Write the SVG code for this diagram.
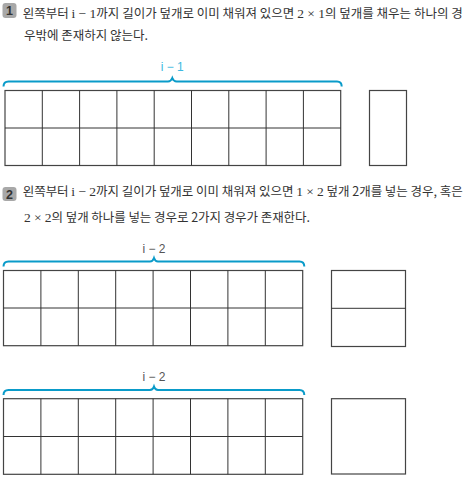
<svg xmlns="http://www.w3.org/2000/svg" width="473" height="482" viewBox="0 0 473 482">
<style>
.t{font-family:"Noto Sans CJK KR","Noto Sans",sans-serif;font-size:12.5px;fill:#333}
.s{font-family:"Liberation Serif",serif;font-size:13.5px}
.badge{fill:#a8a8a8}
.bn{font-family:"Liberation Sans",Arial,sans-serif;font-size:12.5px;font-weight:bold;fill:#333;text-anchor:middle}
.brace{fill:none;stroke:#0a9bc9;stroke-width:2}
.grid{fill:none;stroke:#333;stroke-width:1}
.out{fill:none;stroke:#444;stroke-width:1.2}
.lb{font-family:"Liberation Sans",Arial,sans-serif;font-size:12px;text-anchor:middle}
</style>
<rect width="473" height="482" fill="#fff"/>
<g id="section1-text">
<rect class="badge" x="2.5" y="3" width="14" height="15" rx="3"/>
<text class="bn" x="9.5" y="15">1</text>
<text class="t" x="22.7" y="17.5" textLength="440" lengthAdjust="spacing">왼쪽부터 <tspan class="s">i − 1</tspan>까지 길이가 덮개로 이미 채워져 있으면 <tspan class="s">2 × 1</tspan>의 덮개를 채우는 하나의 경</text>
<text class="t" x="24" y="40">우밖에 존재하지 않는다.</text>
</g>
<g id="brace1">
<path class="brace" d="M3.5,86.5 Q3.5,81.5 8.5,81.5 L168,81.5 Q171,81.5 172.3,78 Q173.6,81.5 176.6,81.5 L337,81.5 Q341.7,81.5 341.7,86.5"/>
<text class="lb" x="172.3" y="71" fill="#3cb8e0">i − 1</text>
</g>
<g id="grid1">
<rect class="out" x="5" y="90.5" width="335.7" height="75"/>
<path class="grid" d="M5,128H340.7 M42.3,90.5V165.5 M79.6,90.5V165.5 M116.9,90.5V165.5 M154.2,90.5V165.5 M191.5,90.5V165.5 M228.8,90.5V165.5 M266.1,90.5V165.5 M303.4,90.5V165.5"/>
</g>
<g id="tile1">
<rect class="out" x="369.5" y="90.5" width="37" height="75"/>
</g>
<g id="section2-text">
<rect class="badge" x="2.5" y="187" width="14" height="14" rx="3"/>
<text class="bn" x="9.5" y="198.5">2</text>
<text class="t" x="22.7" y="195.5" textLength="440" lengthAdjust="spacing">왼쪽부터 <tspan class="s">i − 2</tspan>까지 길이가 덮개로 이미 채워져 있으면 <tspan class="s">1 × 2</tspan> 덮개 2개를 넣는 경우, 혹은</text>
<text class="t" x="24" y="222" textLength="286" lengthAdjust="spacing"><tspan class="s">2 × 2</tspan>의 덮개 하나를 넣는 경우로 2가지 경우가 존재한다.</text>
</g>
<g id="brace2">
<path class="brace" d="M3.5,266.5 Q3.5,261.5 8.5,261.5 L150,261.5 Q152.8,261.5 154,258 Q155.2,261.5 158,261.5 L299.5,261.5 Q304.3,261.5 304.3,266.5"/>
<text class="lb" x="154" y="253" fill="#555">i − 2</text>
</g>
<g id="grid2">
<rect class="out" x="3.5" y="270.5" width="299.2" height="75.2"/>
<path class="grid" d="M3.5,308H302.7 M40.9,270.5V345.7 M78.3,270.5V345.7 M115.7,270.5V345.7 M153.1,270.5V345.7 M190.5,270.5V345.7 M227.9,270.5V345.7 M265.3,270.5V345.7"/>
</g>
<g id="tile2">
<rect class="out" x="331.5" y="270.5" width="74" height="76"/>
<path class="grid" d="M331.5,308.3H405.5"/>
</g>
<g id="brace3">
<path class="brace" d="M3.5,395 Q3.5,390 8.5,390 L150,390 Q152.8,390 154,386.5 Q155.2,390 158,390 L299.5,390 Q304.3,390 304.3,395"/>
<text class="lb" x="154" y="381" fill="#555">i − 2</text>
</g>
<g id="grid3">
<rect class="out" x="3.5" y="398.7" width="299.2" height="75.6"/>
<path class="grid" d="M3.5,436.5H302.7 M40.9,398.7V474.3 M78.3,398.7V474.3 M115.7,398.7V474.3 M153.1,398.7V474.3 M190.5,398.7V474.3 M227.9,398.7V474.3 M265.3,398.7V474.3"/>
</g>
<g id="tile3">
<rect class="out" x="331.5" y="398.7" width="74" height="75.3"/>
</g>
</svg>
